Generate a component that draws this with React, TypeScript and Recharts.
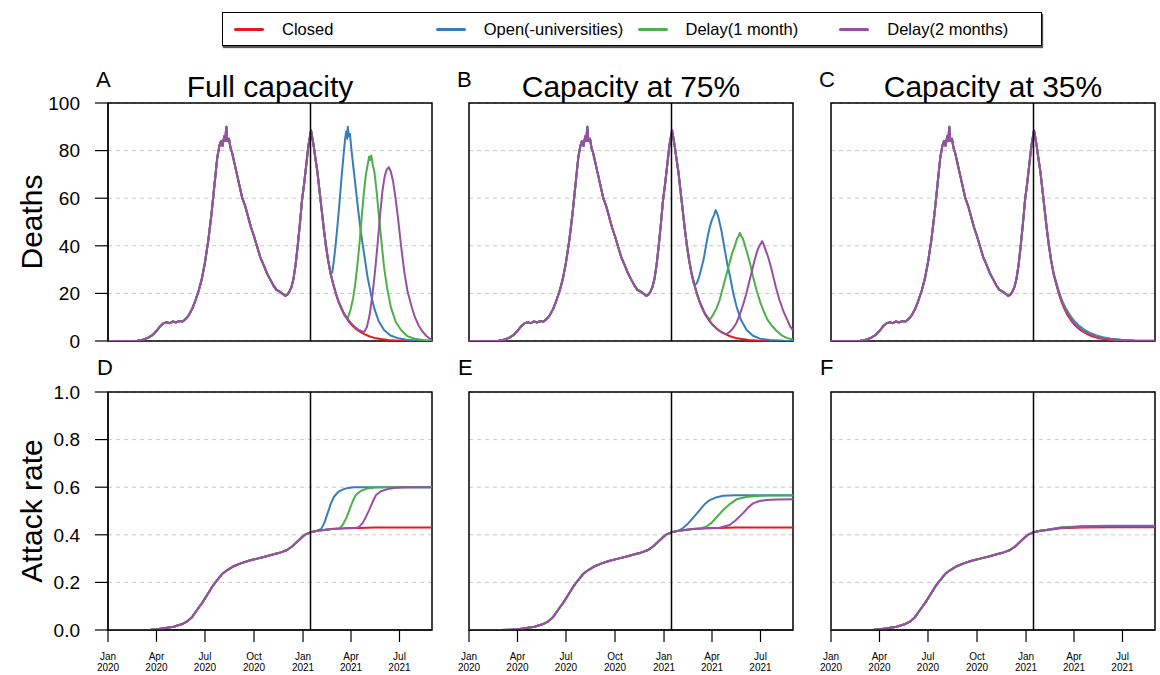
import React from "react";
import {
  CartesianGrid,
  Line,
  LineChart,
  ReferenceArea,
  ReferenceLine,
  XAxis,
  YAxis,
} from "recharts";

type Pt = [number, number];

// days counted from 1 Jan 2020
const SERIES_NAMES = ["Closed", "Open(-universities)", "Delay(1 month)", "Delay(2 months)"];
const SERIES_COLORS = ["#E41A1C", "#377EB8", "#4DAF4A", "#984EA3"];
const PANEL_TITLES = ["Full capacity", "Capacity at 75%", "Capacity at 35%"];
const LETTERS_TOP = ["A", "B", "C"];
const LETTERS_BOTTOM = ["D", "E", "F"];

const TICK_DAYS = [0, 91, 182, 274, 366, 456, 547];
const TICK_MONTHS = ["Jan", "Apr", "Jul", "Oct", "Jan", "Apr", "Jul"];
const TICK_YEARS = ["2020", "2020", "2020", "2020", "2021", "2021", "2021"];
const DEATH_TICKS = [0, 20, 40, 60, 80, 100];
const RATE_TICKS = [0, 0.2, 0.4, 0.6, 0.8, 1];
const REOPEN_DAY = 380;
const LAST_DAY = 608;

// ---- deaths: shared history up to reopening ----
const DEATHS_COMMON: Pt[] = [
  [0, 0], [40, 0], [55, 0.1], [65, 0.5], [75, 1.3], [84, 2.6], [92, 4.5], [98, 6.2],
  [104, 7.4], [110, 7.9], [116, 7.5], [122, 8.2], [128, 7.8], [134, 8.4], [140, 8.2],
  [146, 9.3], [152, 11], [158, 13.5], [164, 17], [170, 21], [176, 26], [182, 33],
  [188, 42], [194, 53], [200, 66], [205, 77], [209, 82], [212, 84], [215, 82], [218, 86],
  [220, 84], [222, 90], [224, 84], [227, 85], [230, 81], [233, 79], [237, 75], [242, 70],
  [247, 65], [252, 60], [257, 57], [262, 53], [268, 48], [274, 44], [280, 39.5], [286, 35],
  [292, 32], [298, 28.6], [304, 26], [310, 23.5], [316, 21.5], [322, 20.8], [328, 19.8],
  [332, 19], [336, 19.3], [340, 20.5], [344, 22.5], [348, 26], [352, 32], [356, 40],
  [360, 49], [364, 59], [368, 66], [372, 74], [376, 82], [379, 86], [381, 88.5], [383, 86],
  [386, 82], [389, 77], [393, 71], [397, 63], [401, 55], [405, 47], [409, 40], [413, 34],
  [418, 28],
];

const DEATHS_CLOSED: Pt[] = [
  [423, 23.5], [428, 19.5], [433, 16.2], [438, 13.5], [443, 11.2], [450, 8.8], [457, 6.8],
  [464, 5.3], [472, 4], [480, 3], [490, 2], [500, 1.3], [512, 0.8], [525, 0.4], [545, 0.15],
  [570, 0.03], [608, 0],
];

const DEATHS_A_OPEN: Pt[] = [
  [421, 29], [424, 34], [427, 40], [430, 47], [434, 57], [438, 68], [442, 78], [445, 85],
  [447, 88], [449, 85], [450, 90], [452, 86], [454, 87], [457, 80], [461, 72], [465, 64],
  [470, 54], [475, 45], [481, 36], [487, 27], [494, 19], [500, 13.5], [508, 8.3], [518, 4.6],
  [530, 2.3], [544, 1.2], [560, 0.5], [580, 0.2], [608, 0],
];
const DEATHS_A_DELAY1: Pt[] = [
  [423, 23.6], [428, 19.6], [433, 16.3], [438, 13.6], [443, 11.3], [450, 9.6], [455, 13],
  [460, 18], [464, 24], [468, 32], [472, 41], [476, 52], [480, 62], [484, 70], [488, 75],
  [490, 77.5], [492, 76], [494, 78], [497, 74], [500, 71], [504, 63], [509, 51], [514, 40],
  [518, 31], [524, 22], [531, 14], [540, 8], [550, 4.6], [562, 2], [575, 1], [590, 0.4],
  [608, 0.1],
];
const DEATHS_A_DELAY2: Pt[] = [
  [423, 23.7], [428, 19.8], [433, 16.5], [438, 14], [443, 11.5], [450, 9.2], [457, 7.3],
  [464, 5.8], [471, 4.6], [477, 4], [481, 3.9], [486, 6], [491, 11], [496, 19], [501, 29],
  [506, 41], [511, 54], [515, 63], [519, 69], [523, 72], [527, 73], [531, 71], [535, 67],
  [539, 61], [544, 52], [550, 40], [556, 29], [562, 21], [569, 15], [576, 10], [583, 6.5],
  [590, 4], [598, 2], [604, 1], [608, 0.5],
];

const DEATHS_B_OPEN: Pt[] = [
  [421, 24.5], [424, 23.5], [428, 24.5], [432, 27], [436, 30.5], [440, 34], [444, 39],
  [448, 44], [452, 48], [456, 51], [460, 53], [463, 55], [465, 54], [468, 52], [471, 49],
  [474, 46], [477, 42], [481, 37], [485, 32], [490, 27], [496, 20], [502, 14.5], [510, 9],
  [521, 4.6], [533, 2.2], [546, 1], [565, 0.4], [590, 0.1], [608, 0],
];
const DEATHS_B_DELAY1: Pt[] = [
  [423, 23.6], [428, 19.6], [433, 16.3], [438, 13.6], [443, 11.3], [452, 9], [458, 11],
  [464, 13.5], [470, 17], [476, 22], [482, 27], [488, 32], [494, 37], [499, 40], [503, 43],
  [506, 44], [508, 45.5], [511, 44], [514, 43], [518, 40], [522, 37], [527, 33], [533, 27],
  [540, 21], [547, 16], [553, 12.5], [560, 9], [568, 6.5], [576, 4.5], [586, 2.5],
  [596, 1.3], [608, 0.6],
];
const DEATHS_B_DELAY2: Pt[] = [
  [423, 23.7], [428, 19.8], [433, 16.5], [438, 14], [443, 11.5], [450, 9], [457, 7],
  [464, 5.4], [471, 4.1], [477, 3.3], [483, 2.9], [490, 4], [496, 5.5], [502, 7.7], [508, 11],
  [514, 15], [520, 19.5], [526, 25], [531, 29.5], [536, 34], [541, 38], [545, 40], [548, 41],
  [550, 42], [553, 40.5], [557, 38], [561, 35.5], [565, 32.5], [570, 28], [576, 22.5],
  [583, 17], [590, 12.5], [597, 9], [603, 6], [608, 4.5],
];

const DEATHS_C_OPEN: Pt[] = [
  [423, 24.5], [428, 20.5], [434, 16.8], [440, 14], [448, 11], [456, 8.5], [465, 6.5],
  [475, 4.8], [485, 3.5], [497, 2.4], [510, 1.6], [525, 1], [545, 0.5], [570, 0.25], [608, 0.1],
];
const DEATHS_C_DELAY1: Pt[] = [
  [423, 24], [428, 20], [434, 16.4], [440, 13.5], [448, 10.5], [456, 8], [465, 6],
  [475, 4.4], [485, 3.2], [497, 2.1], [510, 1.4], [525, 0.8], [545, 0.4], [570, 0.2], [608, 0.1],
];
const DEATHS_C_DELAY2: Pt[] = [
  [423, 23.8], [428, 19.8], [434, 16], [440, 13.1], [448, 10], [456, 7.6], [465, 5.6],
  [475, 4], [485, 2.9], [497, 1.9], [510, 1.2], [525, 0.7], [545, 0.3], [570, 0.1], [608, 0],
];

// ---- attack rate ----
const RATE_COMMON: Pt[] = [
  [0, 0], [60, 0], [80, 0.001], [92, 0.003], [105, 0.007], [123, 0.014], [138, 0.024],
  [148, 0.035], [158, 0.055], [167, 0.084], [177, 0.115], [186, 0.147], [195, 0.18],
  [205, 0.21], [214, 0.235], [224, 0.252], [236, 0.268], [249, 0.28], [264, 0.291],
  [280, 0.3], [296, 0.309], [311, 0.318], [324, 0.326], [336, 0.336], [346, 0.352],
  [355, 0.371], [363, 0.388], [371, 0.402], [382, 0.412], [393, 0.417],
];
const RATE_CLOSED: Pt[] = [[405, 0.42], [420, 0.424], [443, 0.427], [470, 0.429], [500, 0.431], [608, 0.431]];

const RATE_D_OPEN: Pt[] = [
  [400, 0.425], [406, 0.45], [412, 0.49], [418, 0.53], [424, 0.56], [432, 0.58], [440, 0.59],
  [450, 0.597], [462, 0.6], [608, 0.6],
];
const RATE_D_DELAY1: Pt[] = [
  [405, 0.42], [420, 0.424], [434, 0.427], [440, 0.44], [447, 0.47], [453, 0.504], [459, 0.54],
  [465, 0.567], [475, 0.585], [487, 0.595], [500, 0.599], [520, 0.6], [608, 0.6],
];
const RATE_D_DELAY2: Pt[] = [
  [405, 0.42], [420, 0.424], [443, 0.427], [465, 0.429], [471, 0.433], [478, 0.45], [484, 0.475],
  [490, 0.504], [497, 0.54], [503, 0.567], [512, 0.583], [525, 0.592], [540, 0.598], [560, 0.6],
  [608, 0.6],
];
const RATE_E_OPEN: Pt[] = [
  [401, 0.427], [410, 0.445], [420, 0.47], [433, 0.504], [442, 0.528], [452, 0.546],
  [465, 0.558], [477, 0.564], [500, 0.566], [608, 0.566],
];
const RATE_E_DELAY1: Pt[] = [
  [405, 0.42], [420, 0.424], [435, 0.428], [445, 0.434], [455, 0.45], [466, 0.477], [477, 0.504],
  [490, 0.53], [502, 0.549], [520, 0.559], [539, 0.563], [570, 0.565], [608, 0.565],
];
const RATE_E_DELAY2: Pt[] = [
  [405, 0.42], [420, 0.424], [443, 0.427], [470, 0.43], [489, 0.441], [500, 0.46], [514, 0.49],
  [524, 0.515], [533, 0.532], [545, 0.542], [558, 0.546], [580, 0.548], [608, 0.549],
];
const RATE_F_CLOSED: Pt[] = [[405, 0.42], [430, 0.427], [470, 0.431], [520, 0.432], [608, 0.432]];
const RATE_F_OPEN: Pt[] = [[405, 0.421], [430, 0.431], [470, 0.436], [520, 0.438], [608, 0.438]];
const RATE_F_DELAY1: Pt[] = [[405, 0.42], [430, 0.43], [470, 0.435], [520, 0.437], [608, 0.437]];
const RATE_F_DELAY2: Pt[] = [[405, 0.42], [430, 0.429], [470, 0.434], [520, 0.436], [608, 0.436]];

const toRows = (head: Pt[], tail: Pt[]) => [...head, ...tail].map(([day, v]) => ({ day, v }));

const DEATH_PANELS = [
  [DEATHS_CLOSED, DEATHS_A_OPEN, DEATHS_A_DELAY1, DEATHS_A_DELAY2],
  [DEATHS_CLOSED, DEATHS_B_OPEN, DEATHS_B_DELAY1, DEATHS_B_DELAY2],
  [DEATHS_CLOSED, DEATHS_C_OPEN, DEATHS_C_DELAY1, DEATHS_C_DELAY2],
].map((tails) => tails.map((t) => toRows(DEATHS_COMMON, t)));

const RATE_PANELS = [
  [RATE_CLOSED, RATE_D_OPEN, RATE_D_DELAY1, RATE_D_DELAY2],
  [RATE_CLOSED, RATE_E_OPEN, RATE_E_DELAY1, RATE_E_DELAY2],
  [RATE_F_CLOSED, RATE_F_OPEN, RATE_F_DELAY1, RATE_F_DELAY2],
].map((tails) => tails.map((t) => toRows(RATE_COMMON, t)));

// layout
const FONT = "'Liberation Sans', Arial, Helvetica, sans-serif";
const PLOT_W = 324;
const PLOT_H = 238;
const PAD_L = 70;
const PAD_R = 4;
const PAD_T = 10;
const X_AXIS_H = 45;
const COL_LEFT = [108, 469, 831];
const ROW_TOP = [103, 392];

function DateTick(props: any) {
  const { x, y, payload } = props;
  const i = TICK_DAYS.indexOf(payload.value);
  return (
    <text x={x} y={y} textAnchor="middle" fontSize={10} fill="#000" fontFamily={FONT}>
      <tspan x={x} dy={16}>{TICK_MONTHS[i]}</tspan>
      <tspan x={x} dy={11}>{TICK_YEARS[i]}</tspan>
    </text>
  );
}

function Panel({
  series,
  col,
  row,
  yTicks,
  yMax,
  fmt,
}: {
  series: { day: number; v: number }[][];
  col: number;
  row: number;
  yTicks: number[];
  yMax: number;
  fmt: (v: number) => string;
}) {
  const showY = col === 0;
  const showX = row === 1;
  return (
    <div style={{ position: "absolute", left: COL_LEFT[col] - PAD_L, top: ROW_TOP[row] - PAD_T }}>
      <LineChart
        width={PAD_L + PLOT_W + PAD_R}
        height={PAD_T + PLOT_H + X_AXIS_H}
        margin={{ top: PAD_T, right: PAD_R, bottom: showX ? 0 : X_AXIS_H, left: showY ? 10 : PAD_L }}
      >
        <CartesianGrid
          horizontal
          vertical={false}
          horizontalValues={yTicks}
          stroke="#c8c8c8"
          strokeDasharray="4 4"
        />
        <XAxis
          type="number"
          dataKey="day"
          domain={[0, LAST_DAY]}
          ticks={TICK_DAYS}
          interval={0}
          allowDataOverflow
          hide={!showX}
          height={X_AXIS_H}
          tickSize={12}
          axisLine={{ stroke: "#000", strokeWidth: 1.2 }}
          tickLine={{ stroke: "#000", strokeWidth: 1.2 }}
          tick={(p: any) => <DateTick {...p} />}
        />
        <YAxis
          type="number"
          domain={[0, yMax]}
          ticks={yTicks}
          interval={0}
          allowDataOverflow
          hide={!showY}
          width={60}
          tickSize={13}
          tickMargin={15}
          tickFormatter={fmt}
          axisLine={{ stroke: "#000", strokeWidth: 1.2 }}
          tickLine={{ stroke: "#000", strokeWidth: 1.2 }}
          tick={{ fontSize: 19, fill: "#000", fontFamily: FONT }}
        />
        {series.map((rows, i) => (
          <Line
            key={SERIES_NAMES[i]}
            data={rows}
            dataKey="v"
            name={SERIES_NAMES[i]}
            type="linear"
            dot={false}
            stroke={SERIES_COLORS[i]}
            strokeWidth={2}
            strokeLinejoin="round"
            isAnimationActive={false}
          />
        ))}
        <ReferenceLine x={REOPEN_DAY} stroke="#000" strokeWidth={1.5} />
        <ReferenceArea
          x1={0}
          x2={LAST_DAY}
          y1={0}
          y2={yMax}
          fill="none"
          fillOpacity={0}
          stroke="#000"
          strokeWidth={1.5}
          ifOverflow="visible"
        />
      </LineChart>
    </div>
  );
}

function LegendBox() {
  return (
    <div
      style={{
        position: "absolute",
        left: 222,
        top: 12,
        width: 820,
        height: 34,
        border: "1px solid #000",
        boxShadow: "1px 2px 1px #555",
        background: "#fff",
        display: "flex",
        alignItems: "center",
        paddingLeft: 11,
        boxSizing: "border-box",
        fontFamily: FONT,
        fontSize: 16.5,
      }}
    >
      {SERIES_NAMES.map((name, i) => (
        <div key={name} style={{ width: 203, display: "flex", alignItems: "center" }}>
          <span
            style={{
              display: "inline-block",
              width: 30,
              height: 3,
              borderRadius: 2,
              background: SERIES_COLORS[i],
              marginRight: 18,
            }}
          />
          <span>{name}</span>
        </div>
      ))}
    </div>
  );
}

export default function App() {
  return (
    <div
      style={{
        position: "absolute",
        left: 0,
        top: 0,
        width: 1160,
        height: 675,
        overflow: "hidden",
        background: "#fff",
        fontFamily: FONT,
      }}
    >
      <LegendBox />
      {DEATH_PANELS.map((series, c) => (
        <Panel key={"d" + c} series={series} col={c} row={0} yTicks={DEATH_TICKS} yMax={100} fmt={(v) => String(v)} />
      ))}
      {RATE_PANELS.map((series, c) => (
        <Panel key={"r" + c} series={series} col={c} row={1} yTicks={RATE_TICKS} yMax={1} fmt={(v) => v.toFixed(1)} />
      ))}
      <svg
        width={1160}
        height={675}
        style={{ position: "absolute", left: 0, top: 0, pointerEvents: "none" }}
        fontFamily={FONT}
      >
        {PANEL_TITLES.map((t, c) => (
          <text key={t} x={COL_LEFT[c] + PLOT_W / 2} y={97} textAnchor="middle" fontSize={30}>
            {t}
          </text>
        ))}
        {LETTERS_TOP.map((l, c) => (
          <text key={l} x={COL_LEFT[c] - 12} y={87} fontSize={22}>
            {l}
          </text>
        ))}
        {LETTERS_BOTTOM.map((l, c) => (
          <text key={l} x={COL_LEFT[c] - 11} y={375} fontSize={22}>
            {l}
          </text>
        ))}
        <text transform="translate(42,222) rotate(-90)" textAnchor="middle" fontSize={30}>
          Deaths
        </text>
        <text transform="translate(42,511) rotate(-90)" textAnchor="middle" fontSize={30}>
          Attack rate
        </text>
      </svg>
    </div>
  );
}
